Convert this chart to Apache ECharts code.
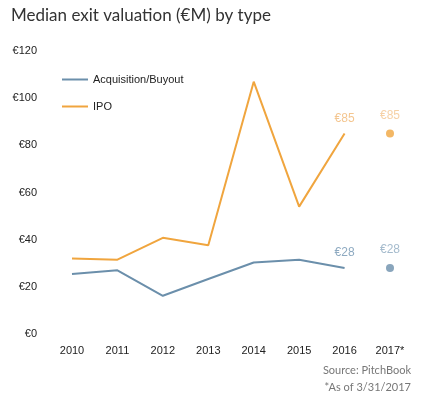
<!DOCTYPE html>
<html>
<head>
<meta charset="utf-8">
<script src="https://cdn.jsdelivr.net/npm/echarts@6/dist/echarts.min.js"></script>
<style>
html,body{margin:0;padding:0;background:#fff;}
#chart{width:427px;height:394px;}
</style>
</head>
<body>
<div id="chart"></div>
<script>
var categories = ['2010','2011','2012','2013','2014','2015','2016','2017*'];
var acquisitionValues = [25.4, 27, 16.2, 23.3, 30.3, 31.5, 28];
var ipoValues = [32, 31.5, 40.8, 37.6, 107, 54, 85];
var acquisition2017 = 28;
var ipo2017 = 85;
var yTicks = [0, 20, 40, 60, 80, 100, 120];

var blue = '#6b8fab', orange = '#f0a53e';
var blueLabel = '#8eaac1', orangeLabel = '#f4c690';
var labelFont = 'Liberation Sans, Arial, sans-serif';

function euro(p) { return '€' + Math.round(p.value); }
function lineData(vals, lblColor) {
  return vals.map(function (v, i) {
    if (i === vals.length - 1) {
      return {value: v, label: {show: true, position: 'top', distance: 9, color: lblColor,
        fontSize: 12, fontFamily: labelFont, formatter: euro}};
    }
    return v;
  });
}
function pointData(v) {
  var d = categories.map(function () { return null; });
  d[categories.length - 1] = v;
  return d;
}

var chart = echarts.init(document.getElementById('chart'), null, {renderer: 'canvas'});
chart.setOption({
  animation: false,
  backgroundColor: '#fff',
  title: [{
    text: 'Median exit valuation (€M) by type',
    left: 6, top: 2,
    textStyle: {fontFamily: 'Lato, sans-serif', fontWeight: 'normal', fontSize: 17, color: '#333'}
  }, {
    text: 'Source: PitchBook',
    right: 11, top: 360,
    textStyle: {fontFamily: 'Lato, sans-serif', fontWeight: 'normal', fontSize: 11, color: '#777'}
  }, {
    text: '*As of 3/31/2017',
    right: 11, top: 377,
    textStyle: {fontFamily: 'Lato, sans-serif', fontWeight: 'normal', fontSize: 11, color: '#777'}
  }],
  legend: {
    orient: 'vertical',
    left: 57, top: 69,
    itemWidth: 26, itemHeight: 2, itemGap: 16,
    icon: 'rect',
    textStyle: {fontFamily: labelFont, fontSize: 11, color: '#222'},
    data: ['Acquisition/Buyout', 'IPO']
  },
  grid: {left: 72, right: 37, top: 51, bottom: 60},
  xAxis: {
    type: 'category',
    data: categories,
    boundaryGap: false,
    axisLine: {show: false}, axisTick: {show: false},
    axisLabel: {margin: 11, fontFamily: labelFont, fontSize: 11, color: '#222'}
  },
  yAxis: {
    type: 'value', min: 0, max: 120, interval: 20,
    splitLine: {show: false}, axisLine: {show: false}, axisTick: {show: false},
    axisLabel: {margin: 35, fontFamily: labelFont, fontSize: 11, color: '#222',
      formatter: function (v) { return yTicks.indexOf(v) >= 0 ? '€' + v : ''; }}
  },
  series: [{
    name: 'Acquisition/Buyout', type: 'line',
    data: lineData(acquisitionValues, blueLabel),
    showSymbol: true, symbol: 'circle', symbolSize: 0,
    lineStyle: {color: blue, width: 2}, itemStyle: {color: blue}
  }, {
    name: 'IPO', type: 'line',
    data: lineData(ipoValues, orangeLabel),
    showSymbol: true, symbol: 'circle', symbolSize: 0,
    lineStyle: {color: orange, width: 2}, itemStyle: {color: orange}
  }, {
    name: 'Acq2017', type: 'scatter',
    data: pointData(acquisition2017),
    symbolSize: 8, itemStyle: {color: blue},
    label: {show: true, position: 'top', distance: 8, color: blueLabel, fontSize: 12, fontFamily: labelFont, formatter: euro}
  }, {
    name: 'IPO2017', type: 'scatter',
    data: pointData(ipo2017),
    symbolSize: 8, itemStyle: {color: orange},
    label: {show: true, position: 'top', distance: 8, color: orangeLabel, fontSize: 12, fontFamily: labelFont, formatter: euro}
  }]
});
</script>
</body>
</html>
